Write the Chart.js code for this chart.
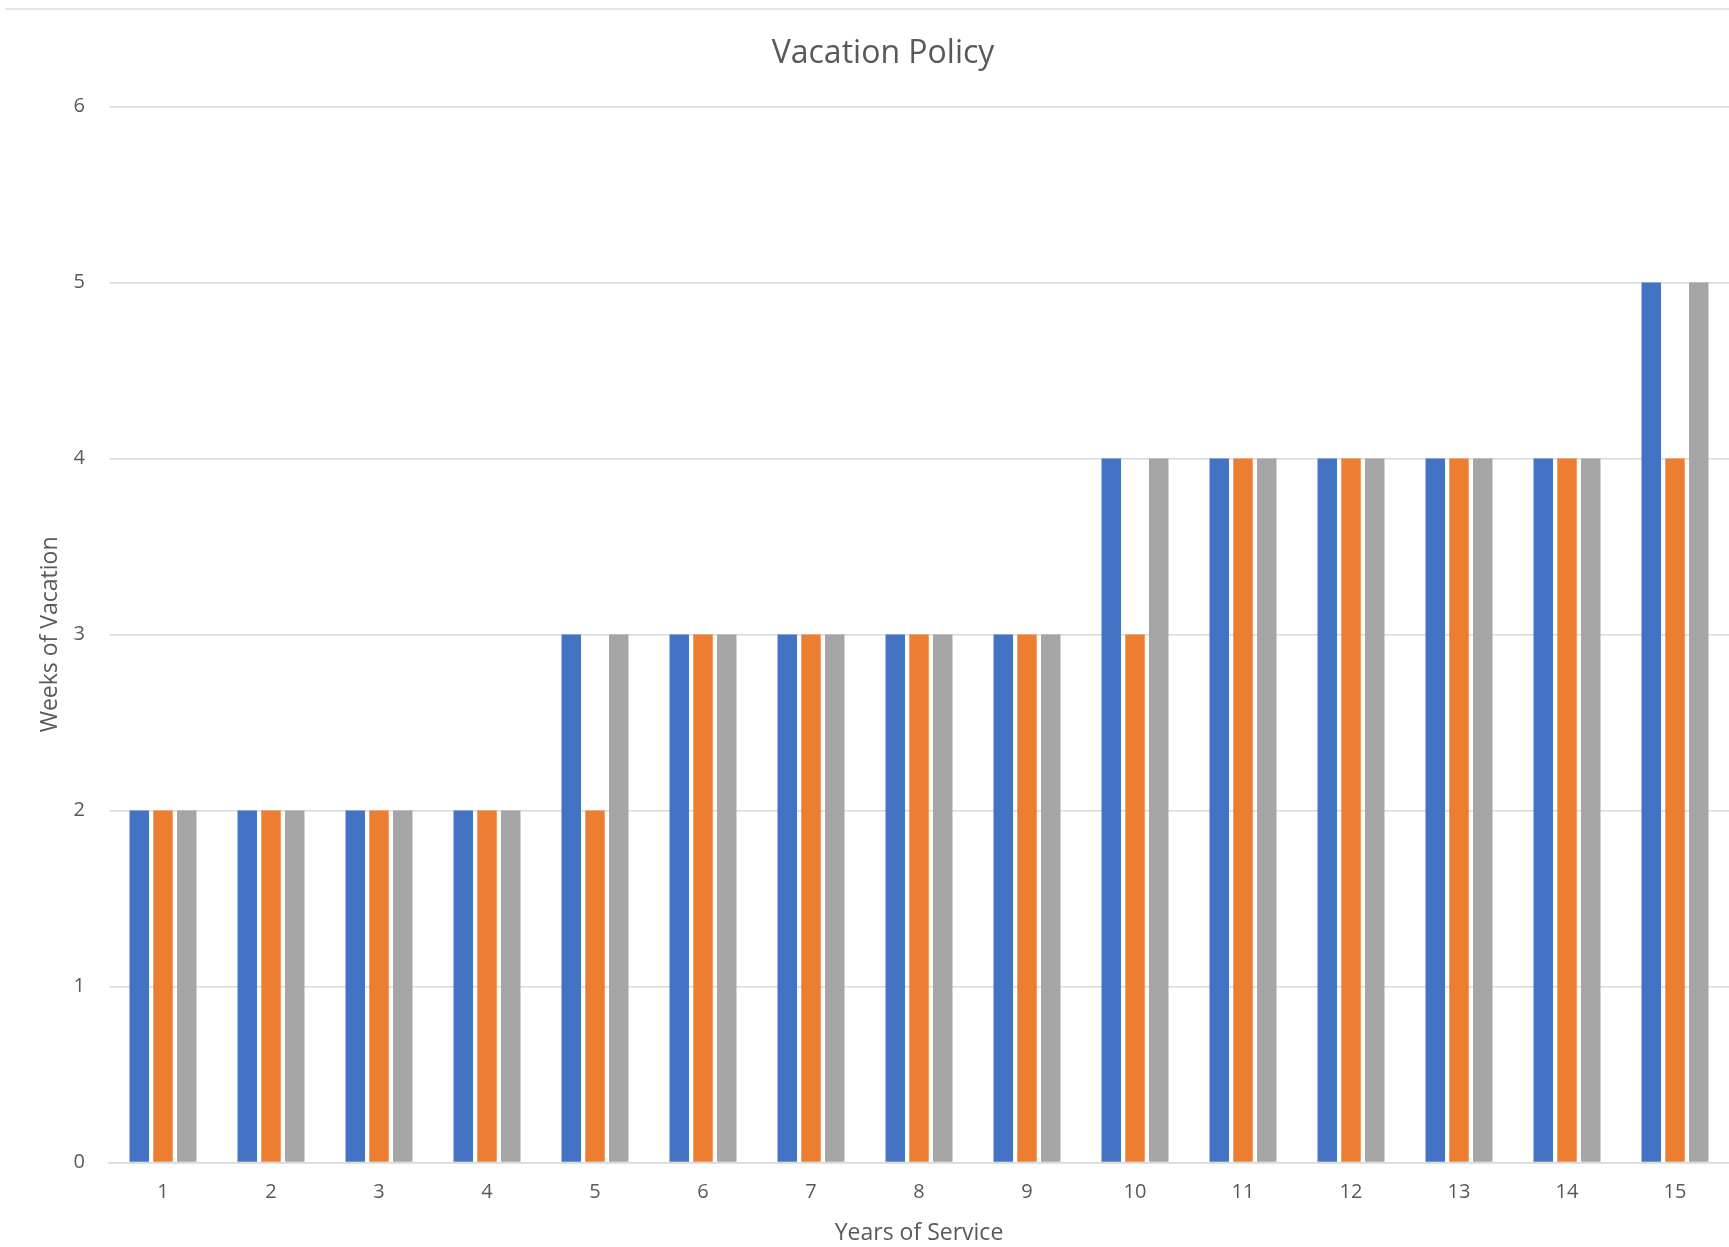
<!DOCTYPE html>
<html>
<head>
<meta charset="utf-8">
<script src="https://cdn.jsdelivr.net/npm/chart.js@4.4.0/dist/chart.umd.min.js"></script>
<style>
  html, body { margin: 0; padding: 0; background: #fff; overflow: hidden; }
  #wrap { position: absolute; left: 0; top: 0; width: 1729px; height: 1247px; overflow: hidden; }
  #topline { position: absolute; left: 5px; top: 8px; width: 1724px; height: 2px; background: #e6e6e6; }
  #box { position: absolute; left: 0; top: 0; width: 1758px; height: 1247px; }
</style>
</head>
<body>
<div id="wrap">
  <div id="topline"></div>
  <div id="box"><canvas id="vacationChart"></canvas></div>
</div>
<script>
    // Vacation Policy - weeks by years of service
    const anos = ['1', '2', '3', '4', '5', '6', '7', '8', '9', '10', '11', '12', '13', '14', '15'];
    const serieAzul = [2, 2, 2, 2, 3, 3, 3, 3, 3, 4, 4, 4, 4, 4, 5];
    const serieLaranja = [2, 2, 2, 2, 2, 3, 3, 3, 3, 3, 4, 4, 4, 4, 4];
    const serieCinza = [2, 2, 2, 2, 3, 3, 3, 3, 3, 4, 4, 4, 4, 4, 5];
    const yTicks = [0, 1, 2, 3, 4, 5, 6];

    const corTexto = '#595959';
    const fonte = '"Open Sans", "Noto Sans", sans-serif';

    const dataVac = {
        labels: anos,
        datasets: [
            { label: 'Series1', data: serieAzul, backgroundColor: '#4472C4' },
            { label: 'Series2', data: serieLaranja, backgroundColor: '#ED7D31' },
            { label: 'Series3', data: serieCinza, backgroundColor: '#A5A5A5' }
        ]
    };

    const configVac = {
        type: 'bar',
        data: dataVac,
        options: {
            responsive: true,
            maintainAspectRatio: false,
            animation: false,
            layout: {
                padding: { left: 37, right: 29, top: 0, bottom: 0 }
            },
            datasets: {
                bar: {
                    categoryPercentage: 0.66,
                    barPercentage: 0.82
                }
            },
            scales: {
                x: {
                    grid: { display: false, drawTicks: false },
                    border: { display: true, color: '#d9d9d9', width: 1.5 },
                    ticks: {
                        color: corTexto,
                        padding: 18,
                        font: { family: fonte, size: 20 }
                    },
                    title: {
                        display: true,
                        text: 'Years of Service',
                        color: corTexto,
                        font: { family: fonte, size: 23 },
                        padding: { top: -3, bottom: 0 }
                    }
                },
                y: {
                    min: 0,
                    max: 6,
                    afterBuildTicks: function(axis) {
                        axis.ticks = yTicks.map(v => ({ value: v }));
                    },
                    afterFit: function(axis) {
                        axis.width = 72;
                    },
                    grid: { color: '#d9d9d9', lineWidth: 1.5, drawTicks: false },
                    border: { display: false },
                    ticks: {
                        color: corTexto,
                        padding: 24,
                        font: { family: fonte, size: 20 }
                    },
                    title: {
                        display: true,
                        text: 'Weeks of Vacation',
                        color: corTexto,
                        font: { family: fonte, size: 23 },
                        padding: { top: 0, bottom: 0 }
                    }
                }
            },
            plugins: {
                legend: { display: false },
                tooltip: { enabled: false },
                title: {
                    display: true,
                    text: 'Vacation Policy',
                    color: corTexto,
                    font: { family: fonte, size: 32, weight: 'normal' },
                    padding: { top: 35, bottom: 33 }
                }
            }
        }
    };

    const ctxVac = document.getElementById('vacationChart').getContext('2d');
    const graficoVac = new Chart(ctxVac, configVac);
</script>
</body>
</html>
